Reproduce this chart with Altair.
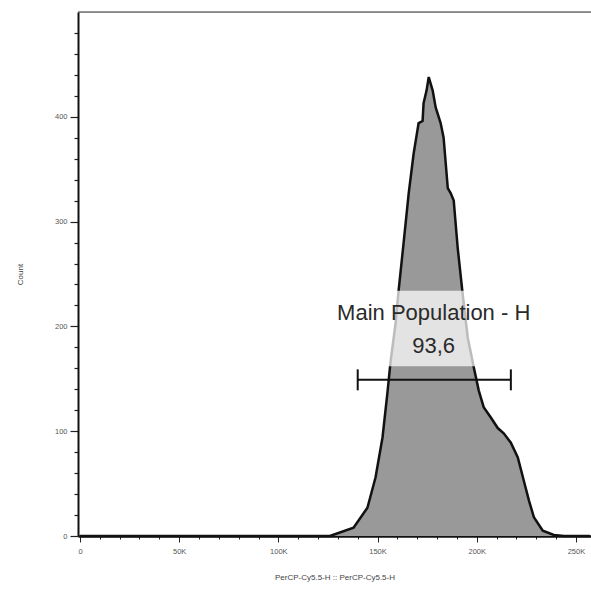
import altair as alt
import pandas as pd

# Histogram (PerCP-Cy5.5-H vs Count)
hist_x = [0, 126000, 137900, 144900, 149000, 152500, 155000, 156600, 159100, 160600,
          163100, 165700, 168200, 170700, 172700, 173200, 174700, 175800, 177800, 179300,
          181800, 183300, 185400, 186900, 188400, 190400, 192900, 195500, 198500, 201000,
          203500, 207100, 210600, 213600, 217200, 220700, 223700, 226300, 228800, 233300,
          238900, 244000, 257000]
hist_y = [0, 0, 8, 27, 56, 94, 137, 167, 203, 234,
          279, 327, 365, 394, 396, 413, 425, 438, 425, 409,
          394, 380, 332, 327, 320, 275, 231, 189, 161, 139,
          123, 113, 103, 98, 89, 75, 53, 34, 18, 5,
          1, 0, 0]

# Gate
gate_name = "Main Population - H"
gate_pct = "93,6"
gate_x = [140000, 217200]
gate_y = 149
cap_y = [139, 159]
label_box_x = [128000, 228500]
label_box_y = [162, 234]
label_x = 178300
label_y = [206, 175]

x_ticks = list(range(0, 260000, 10000))
y_ticks = list(range(0, 500, 20))

FONT = "Liberation Sans"

hist = pd.DataFrame({"x": hist_x, "y": hist_y})

xscale = alt.Scale(domain=[-1000, 257600], nice=False, zero=False)
yscale = alt.Scale(domain=[0, 500], nice=False)

xaxis = alt.Axis(
    values=x_ticks, labelOverlap=False,
    labelExpr="datum.value % 50000 === 0 ? (datum.value === 0 ? '0' : (datum.value / 1000) + 'K') : ''",
    tickSize={"condition": {"test": "datum.value % 50000 === 0", "value": 6}, "value": 3},
    tickColor="#222", tickWidth=1, domainColor="#111", domainWidth=2.5,
    labelFontSize=7.5, labelColor="#555555", labelPadding=5, labelFont=FONT,
    title="PerCP-Cy5.5-H :: PerCP-Cy5.5-H", titleFontSize=8, titleFont=FONT,
    titleColor="#444444", titleFontWeight="normal", titlePadding=19, grid=False,
)
yaxis = alt.Axis(
    values=y_ticks, labelOverlap=False,
    labelExpr="datum.value % 100 === 0 ? '' + datum.value : ''",
    tickSize={"condition": {"test": "datum.value % 100 === 0", "value": 8}, "value": 4},
    tickColor="#222", tickWidth=1.2, domainColor="#111", domainWidth=2,
    labelFontSize=7.5, labelColor="#555555", labelPadding=3, labelFont=FONT,
    title="Count", titleFontSize=8, titleFont=FONT, titleColor="#444444",
    titleFontWeight="normal", titlePadding=30, grid=False,
)

area = alt.Chart(hist).mark_area(
    color="#999999", opacity=1, line={"color": "#111111", "strokeWidth": 2.5},
    interpolate="linear"
).encode(
    x=alt.X("x:Q", scale=xscale, axis=xaxis),
    y=alt.Y("y:Q", scale=yscale, axis=yaxis),
)

box_df = pd.DataFrame({"x": [label_box_x[0]], "x2": [label_box_x[1]],
                       "y": [label_box_y[0]], "y2": [label_box_y[1]]})
box = alt.Chart(box_df).mark_rect(color="white", opacity=0.72).encode(
    x=alt.X("x:Q", scale=xscale, axis=xaxis), x2="x2",
    y=alt.Y("y:Q", scale=yscale, axis=yaxis), y2="y2"
)

txt_df = pd.DataFrame({"x": [label_x, label_x], "y": label_y, "t": [gate_name, gate_pct]})
txt = alt.Chart(txt_df).mark_text(
    font=FONT, fontSize=22, color="#2a2a2a", baseline="alphabetic", align="center"
).encode(x=alt.X("x:Q", scale=xscale, axis=xaxis),
         y=alt.Y("y:Q", scale=yscale, axis=yaxis), text="t:N")

gline_df = pd.DataFrame({"x": [gate_x[0]], "x2": [gate_x[1]], "y": [gate_y]})
gline = alt.Chart(gline_df).mark_rule(color="#111", strokeWidth=2).encode(
    x=alt.X("x:Q", scale=xscale, axis=xaxis), x2="x2",
    y=alt.Y("y:Q", scale=yscale, axis=yaxis)
)
caps_df = pd.DataFrame({"x": gate_x, "y": [cap_y[0]] * 2, "y2": [cap_y[1]] * 2})
caps = alt.Chart(caps_df).mark_rule(color="#111", strokeWidth=2).encode(
    x=alt.X("x:Q", scale=xscale, axis=xaxis),
    y=alt.Y("y:Q", scale=yscale, axis=yaxis), y2="y2"
)

top = alt.Chart(pd.DataFrame({"a": [0]})).mark_rule(color="#333", strokeWidth=1.2).encode(
    x=alt.value(0), x2=alt.value(513), y=alt.value(0)
)

chart = alt.layer(area, box, txt, gline, caps, top).properties(
    width=513, height=524,
    autosize=alt.AutoSizeParams(type="none"),
    padding={"left": 78, "top": 12, "right": 0, "bottom": 57},
).configure_view(stroke=None).configure_axis(labelOverlap=False).configure(background="white")

chart.save("out.html", embed_options={"renderer": "svg", "actions": False})
